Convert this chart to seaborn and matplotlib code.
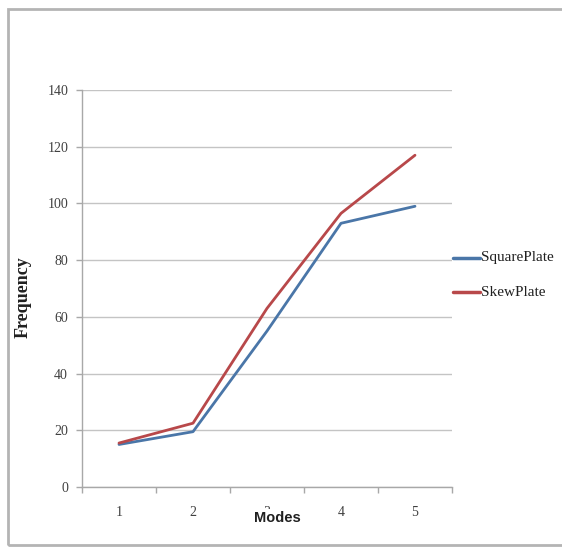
import matplotlib
matplotlib.use("Agg")
import matplotlib.pyplot as plt
from matplotlib.patches import Rectangle
import seaborn as sns
import pandas as pd
import numpy as np

# Natural frequencies for the first five modes
modes = ["1", "2", "3", "4", "5"]
square_plate = [15, 19.5, 55, 93, 99]
skew_plate = [15.5, 22.5, 63, 96.5, 117]
series_names = ["SquarePlate", "SkewPlate"]
y_ticks = [0, 20, 40, 60, 80, 100, 120, 140]

df = pd.DataFrame({
    "Modes": modes * 2,
    "Frequency": square_plate + skew_plate,
    "Plate": [series_names[0]] * len(modes) + [series_names[1]] * len(modes),
})

sns.set_theme(style="white")
plt.rcParams["font.family"] = ["Liberation Serif", "DejaVu Serif"]

W, H = 562, 548
fig = plt.figure(figsize=(W / 100, H / 100), dpi=100)
ax = fig.add_axes([82 / W, (H - 487) / H, (452 - 82) / W, (487 - 90) / H])

palette = {"SquarePlate": "#4a76a8", "SkewPlate": "#b8484a"}
sns.lineplot(data=df, x="Modes", y="Frequency", hue="Plate", palette=palette,
             linewidth=2, ax=ax, legend=False, sort=False)

ax.set_xlim(-0.5, len(modes) - 0.5)
ax.set_ylim(0, 140)
ax.set_yticks(y_ticks)
ax.set_yticklabels([str(v) for v in y_ticks], fontsize=10, color="#404040")
ax.yaxis.grid(True, color="#c4c4c4", linewidth=1)
ax.xaxis.grid(False)

ax.set_xticks(range(len(modes)))
ax.set_xticklabels(modes, fontsize=10, color="#404040")
ax.set_xticks(np.arange(-0.5, len(modes), 1.0), minor=True)
ax.tick_params(axis="x", which="major", length=0, pad=14)
ax.tick_params(axis="x", which="minor", length=4, color="#a8a8a8", width=1, bottom=True)
ax.tick_params(axis="y", which="major", length=4, color="#a8a8a8", width=1, left=True, pad=6)

for side in ["top", "right"]:
    ax.spines[side].set_visible(False)
for side in ["left", "bottom"]:
    ax.spines[side].set_color("#a8a8a8")
    ax.spines[side].set_linewidth(1)

ax.set_xlabel("")
ax.set_ylabel("")

# Axis titles
fig.text(23 / W, 1 - 297 / H, "Frequency", rotation=90, ha="center", va="center",
         fontsize=13, fontweight="bold", color="#202020")
fig.text(277 / W, 1 - 518 / H, "Modes", ha="center", va="center",
         fontsize=10.5, fontweight="bold", color="#202020",
         family=["Liberation Sans", "DejaVu Sans"],
         bbox=dict(facecolor="white", edgecolor="none", pad=1.5))

# Legend entries to the right of the plot
for i, name in enumerate(series_names):
    y = 1 - (258 + 34 * i) / H
    fig.add_artist(plt.Line2D([453 / W, 480 / W], [y, y], color=palette[name],
                              linewidth=2.5, transform=fig.transFigure))
    fig.text(481 / W, y, name, ha="left", va="center", fontsize=11, color="#202020")

# Chart frame
fig.add_artist(Rectangle((8 / W, 1 - 545 / H), 570 / W, (545 - 9) / H,
                         transform=fig.transFigure, fill=False,
                         edgecolor="#b4b4b4", linewidth=2))

fig.savefig("out.png", dpi=100, facecolor="white")
